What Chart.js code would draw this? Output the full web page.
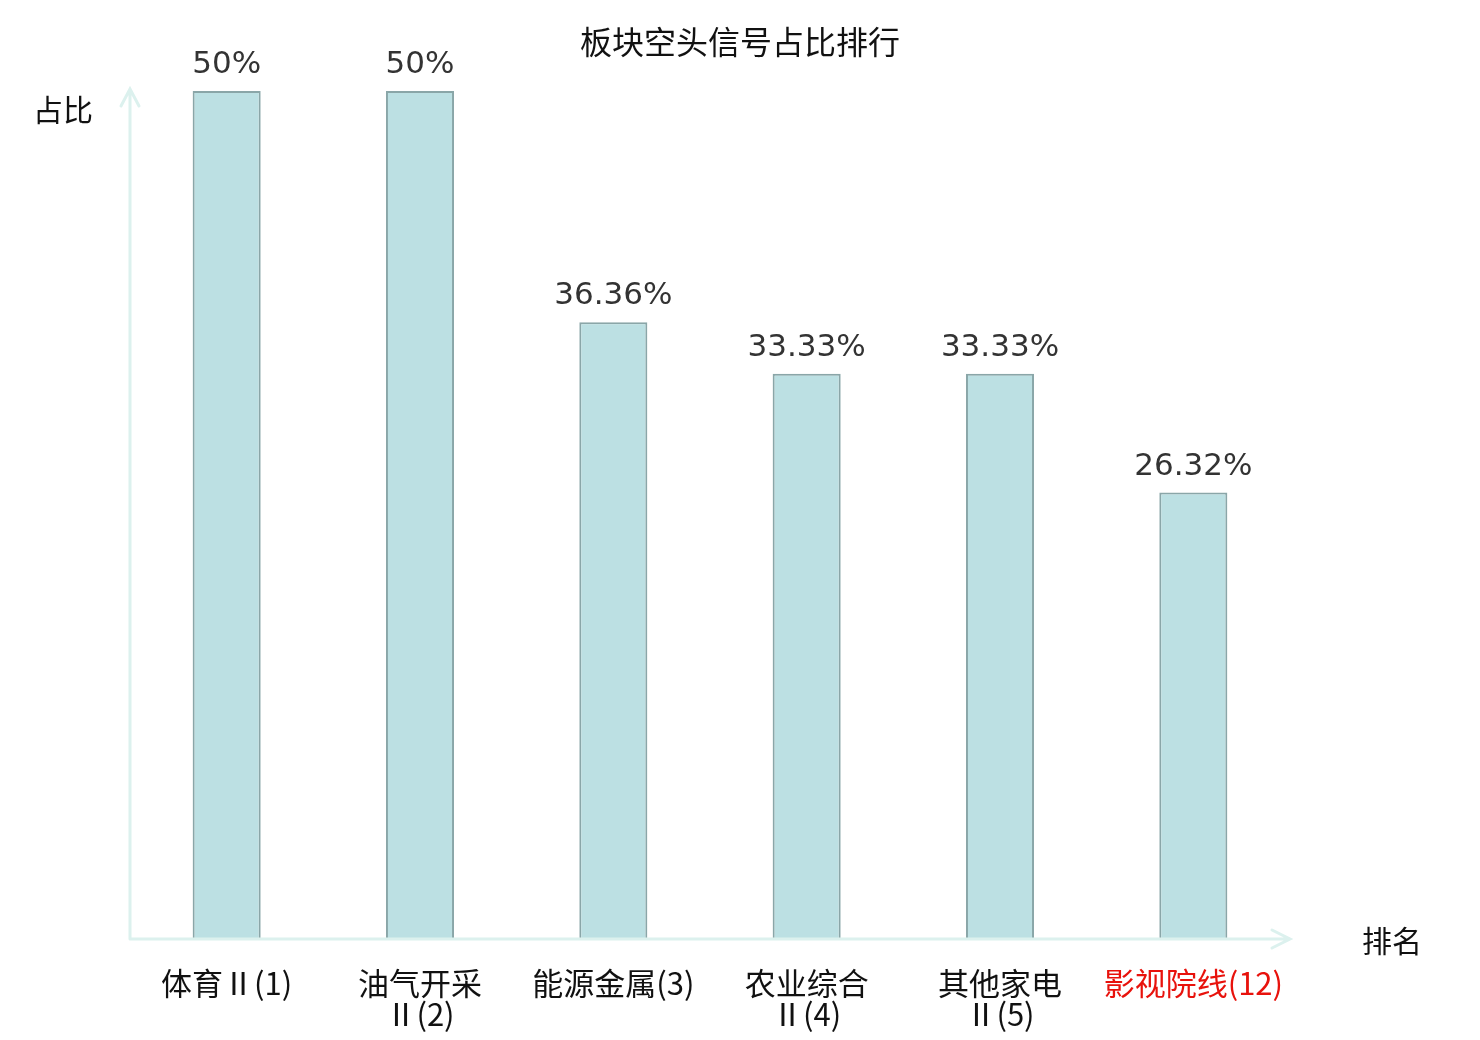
<!DOCTYPE html>
<html>
<head>
<meta charset="utf-8">
<script src="https://cdn.jsdelivr.net/npm/chart.js@4"></script>
<style>
  html, body { margin: 0; padding: 0; background: #fff; }
  #wrap { width: 1480px; height: 1040px; }
</style>
</head>
<body>
<div id="wrap"><canvas id="chart"></canvas></div>
<script>
const TITLE = '板块空头信号占比排行';
const Y_NAME = '占比';
const X_NAME = '排名';
const categories = [
    ['体育Ⅱ(1)'],
    ['油气开采', 'Ⅱ(2)'],
    ['能源金属(3)'],
    ['农业综合', 'Ⅱ(4)'],
    ['其他家电', 'Ⅱ(5)'],
    ['影视院线(12)']
];
const shares = [50, 50, 36.36, 33.33, 33.33, 26.32];
const shareLabels = ['50%', '50%', '36.36%', '33.33%', '33.33%', '26.32%'];
const highlighted = [false, false, false, false, false, true];

const CJK = '"Noto Sans CJK SC", "DejaVu Sans", sans-serif';
const AXIS_COLOR = '#dcf1ee';

// axes with arrows, axis names, title and value labels
const decorations = {
    id: 'decorations',
    afterDatasetsDraw(chart) {
        const { ctx, chartArea: a } = chart;
        ctx.save();

        // axis lines
        ctx.strokeStyle = AXIS_COLOR;
        ctx.lineWidth = 3;
        ctx.lineCap = 'round';
        ctx.beginPath();
        ctx.moveTo(a.left, a.bottom);
        ctx.lineTo(a.left, a.top - 2);
        ctx.moveTo(a.left, a.bottom);
        ctx.lineTo(a.right, a.bottom);
        // arrow heads
        ctx.moveTo(a.left - 9, a.top + 15);
        ctx.lineTo(a.left, a.top - 2);
        ctx.lineTo(a.left + 9, a.top + 15);
        ctx.moveTo(a.right - 18, a.bottom - 9);
        ctx.lineTo(a.right, a.bottom);
        ctx.lineTo(a.right - 18, a.bottom + 9);
        ctx.stroke();

        // axis names
        ctx.fillStyle = '#111';
        ctx.font = '30px ' + CJK;
        ctx.textBaseline = 'middle';
        ctx.textAlign = 'center';
        ctx.fillText(Y_NAME, a.left - 67, a.top + 19);
        ctx.fillText(X_NAME, a.right + 102, a.bottom + 2);

        // title
        ctx.font = '32px ' + CJK;
        ctx.fillText(TITLE, chart.width / 2, 42);

        // value labels
        ctx.fillStyle = '#333';
        ctx.font = '31px "DejaVu Sans", sans-serif';
        ctx.textBaseline = 'alphabetic';
        const meta = chart.getDatasetMeta(0);
        meta.data.forEach((bar, i) => {
            ctx.fillText(shareLabels[i], bar.x, bar.y - 18);
        });
        ctx.restore();
    }
};

new Chart(document.getElementById('chart'), {
    type: 'bar',
    data: {
        labels: categories,
        datasets: [{
            data: shares,
            backgroundColor: '#bce0e3',
            borderColor: '#8aa6a8',
            borderWidth: 2,
            categoryPercentage: 1,
            barPercentage: 0.352
        }]
    },
    options: {
        responsive: true,
        maintainAspectRatio: false,
        animation: false,
        layout: { padding: { left: 130, right: 190, top: 91, bottom: 0 } },
        plugins: {
            legend: { display: false },
            title: { display: false },
            tooltip: { enabled: false }
        },
        scales: {
            x: {
                grid: { display: false },
                border: { display: false },
                ticks: {
                    padding: 20,
                    maxRotation: 0,
                    autoSkip: false,
                    font: { family: CJK, size: 31, lineHeight: 1.02 },
                    color: ctx => highlighted[ctx.index] ? '#e8120c' : '#111'
                },
                afterFit: s => { s.height = 101; }
            },
            y: {
                min: 0,
                max: 50,
                grid: { display: false },
                border: { display: false },
                ticks: { display: false },
                afterFit: s => { s.width = 0; }
            }
        }
    },
    plugins: [decorations]
});
</script>
</body>
</html>
